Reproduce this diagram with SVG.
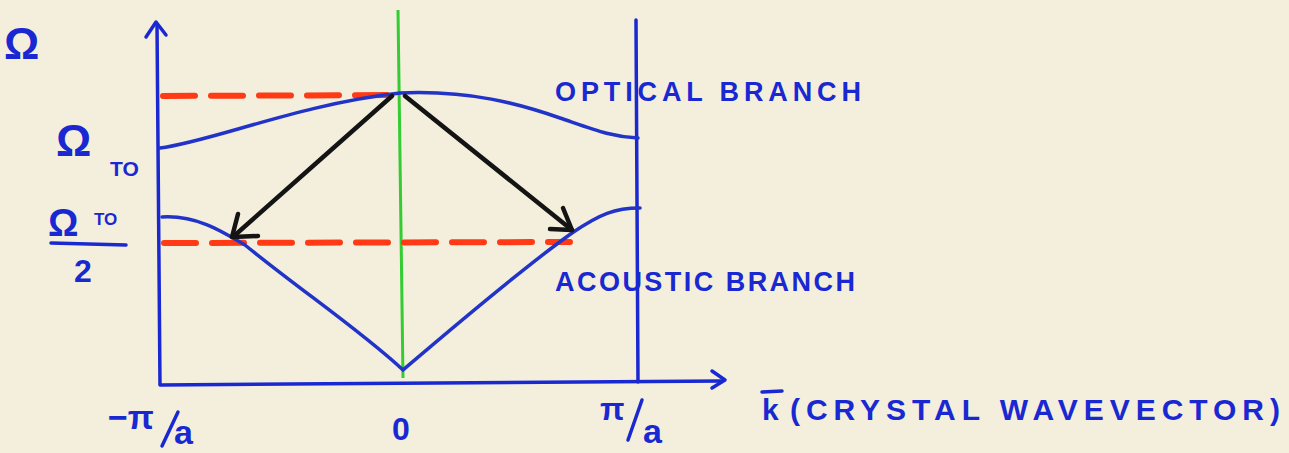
<svg xmlns="http://www.w3.org/2000/svg" width="1289" height="453" viewBox="0 0 1289 453">
<defs>
<style>
.ax{stroke:#1a28d2;stroke-width:3.5;fill:none;stroke-linecap:round;stroke-linejoin:round}
.cv{stroke:#2233c8;stroke-width:3.5;fill:none;stroke-linecap:round}
.rd{stroke:#ff3a14;stroke-width:6;fill:none;stroke-dasharray:32 16;stroke-linecap:round}
.bk{stroke:#141414;stroke-width:4.5;fill:none;stroke-linecap:round;stroke-linejoin:round}
.t{fill:#1a28d2;font-family:"Liberation Sans",Arial,sans-serif;font-weight:bold}
</style>
</defs>
<rect width="1289" height="453" fill="#f3efdc"/>
<g id="axes">
<path class="ax" d="M157,24 L160,385 L722,381"/>
<path class="ax" d="M146,37 L156,22 L166,35"/>
<path class="ax" d="M712,371 L725,380 L712,388"/>
<path class="ax" d="M636,20 L638,382"/>
</g>
<path d="M398,10 L403,378" stroke="#33cc33" stroke-width="3" fill="none"/>
<g id="red-levels">
<path class="rd" d="M163,96 L395,95"/>
<path class="rd" d="M164,243 L570,242"/>
</g>
<g id="branches">
<path class="cv" d="M160,148 C210,142 300,104 400,93 C470,90 520,104 560,118 C595,130 612,137 638,138"/>
<path class="cv" d="M162,217 C195,215 220,230 245,245 C300,290 360,330 403,370 C450,330 520,270 572,233 C600,214 615,208 640,208"/>
</g>
<g id="transitions">
<path class="bk" d="M392,96 L234,236"/>
<path class="bk" d="M238,214 L232,237 L258,236"/>
<path class="bk" d="M405,96 L572,230"/>
<path class="bk" d="M563,208 L572,230 L550,229"/>
</g>
<g id="labels">
<text class="t" x="4" y="59" font-size="44">Ω</text>
<text class="t" x="56" y="156" font-size="44">Ω</text>
<text class="t" x="110" y="176" font-size="21">TO</text>
<text class="t" x="48" y="236" font-size="38">Ω</text>
<text class="t" x="94" y="225" font-size="17">TO</text>
<path class="ax" d="M51,243 L126,245"/>
<text class="t" x="74" y="282" font-size="32">2</text>
<text class="t" x="108" y="429" font-size="34">−π</text>
<path class="ax" d="M178,412 L162,446"/>
<text class="t" x="174" y="444" font-size="34">a</text>
<text class="t" x="392" y="440" font-size="32">0</text>
<text class="t" x="600" y="420" font-size="32">π</text>
<path class="ax" d="M642,400 L628,440"/>
<text class="t" x="643" y="443" font-size="34">a</text>
<text class="t" x="555" y="101" font-size="27" textLength="306" lengthAdjust="spacing">OPTICAL BRANCH</text>
<text class="t" x="555" y="291" font-size="27" textLength="300" lengthAdjust="spacing">ACOUSTIC BRANCH</text>
<text class="t" x="762" y="420" font-size="30">k</text>
<path class="ax" d="M762,392 L782,391"/>
<text class="t" x="790" y="420" font-size="30" textLength="490" lengthAdjust="spacing">(CRYSTAL WAVEVECTOR)</text>
</g>
</svg>
